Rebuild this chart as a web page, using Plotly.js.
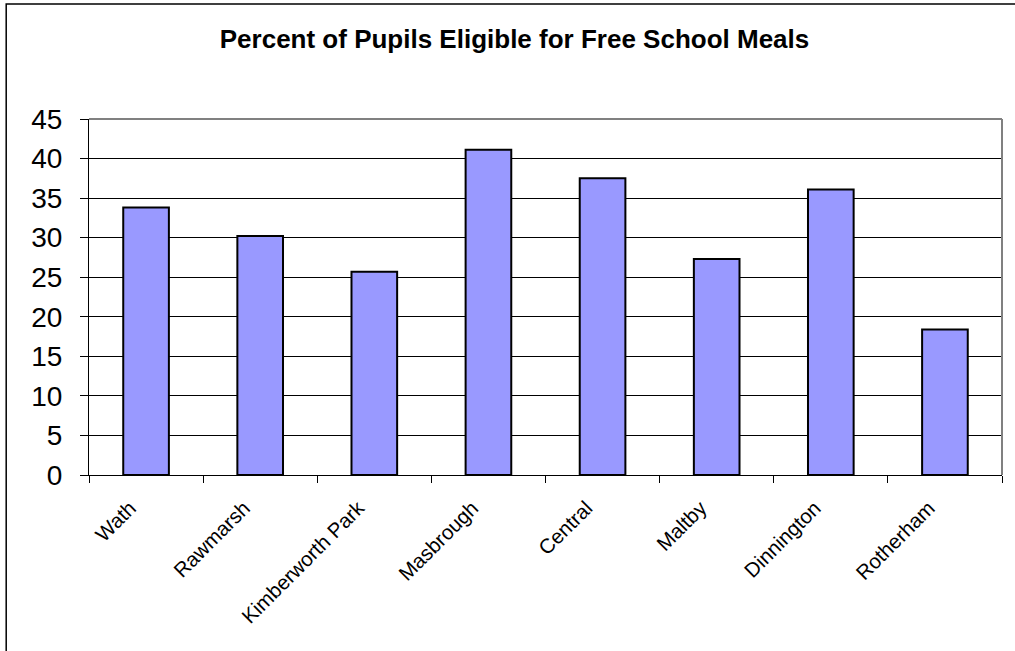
<!DOCTYPE html>
<html>
<head>
<meta charset="utf-8">
<script src="https://cdn.plot.ly/plotly-3.0.1.min.js"></script>
<style>
html,body{margin:0;padding:0;background:#fff;}
#chart{width:1015px;height:651px;}
</style>
</head>
<body>
<div id="chart"></div>
<script>
const categories = ["Wath", "Rawmarsh", "Kimberworth Park", "Masbrough", "Central", "Maltby", "Dinnington", "Rotherham"];
const percentEligible = [33.8, 30.2, 25.7, 41.1, 37.5, 27.3, 36.1, 18.4];
const yTickValues = [0, 5, 10, 15, 20, 25, 30, 35, 40, 45];
const chartTitle = "Percent of Pupils Eligible for Free School Meals";

const FONT = "Liberation Sans, Arial, sans-serif";

const trace = {
  type: "bar",
  x: categories,
  y: percentEligible,
  marker: { color: "#9999FF", line: { color: "#000000", width: 2 } },
  hoverinfo: "x+y"
};

const L = 89.3, R = 1015 - 1002.3, T = 119, B = 651 - 475;
const plotW = 1015 - L - R, plotH = 651 - T - B;
function px(x){ return (x - L) / plotW; }
function py(y){ return (651 - B - y) / plotH; }

const layout = {
  width: 1015, height: 651,
  margin: { l: L, r: R, t: T, b: B, pad: 0 },
  paper_bgcolor: "#ffffff",
  plot_bgcolor: "#ffffff",
  showlegend: false,
  bargap: 0.6,
  title: {
    text: "<b>" + chartTitle + "</b>",
    font: { family: FONT, size: 26, color: "#000000" },
    x: 514.5 / 1015, xref: "container", xanchor: "center",
    y: 1 - 39 / 651, yref: "container", yanchor: "middle"
  },
  xaxis: {
    type: "category",
    showgrid: false,
    showline: true, linecolor: "#000000", linewidth: 1,
    ticks: "outside", tickson: "boundaries", ticklen: 7, tickcolor: "#000000", tickwidth: 1,
    tickangle: -45,
    ticklabelshift: -16,
    ticklabelstandoff: 12,
    tickfont: { family: FONT, size: 20.5, color: "#000000" },
    zeroline: false
  },
  yaxis: {
    range: [0, 45],
    tickvals: yTickValues,
    ticktext: yTickValues.map(String),
    showgrid: true, gridcolor: "#000000", gridwidth: 1,
    showline: true, linecolor: "#000000", linewidth: 1,
    ticks: "outside", ticklen: 8, tickcolor: "#000000", tickwidth: 1,
    ticklabelstandoff: 12,
    tickfont: { family: FONT, size: 28, color: "#000000" },
    zeroline: false
  },
  shapes: [
    { type: "line", xref: "paper", yref: "paper", x0: 0, x1: 1, y0: 1, y1: 1,
      line: { color: "#808080", width: 2 } },
    { type: "line", xref: "paper", yref: "paper", x0: 1, x1: 1, y0: 0, y1: 1,
      line: { color: "#808080", width: 2 } },
    { type: "rect", xref: "paper", yref: "paper",
      x0: px(6.5), x1: px(1030), y0: py(4), y1: py(670),
      line: { color: "#000000", width: 1.5 }, fillcolor: "rgba(0,0,0,0)" }
  ]
};

Plotly.newPlot("chart", [trace], layout, { displayModeBar: false, staticPlot: true });
</script>
</body>
</html>
